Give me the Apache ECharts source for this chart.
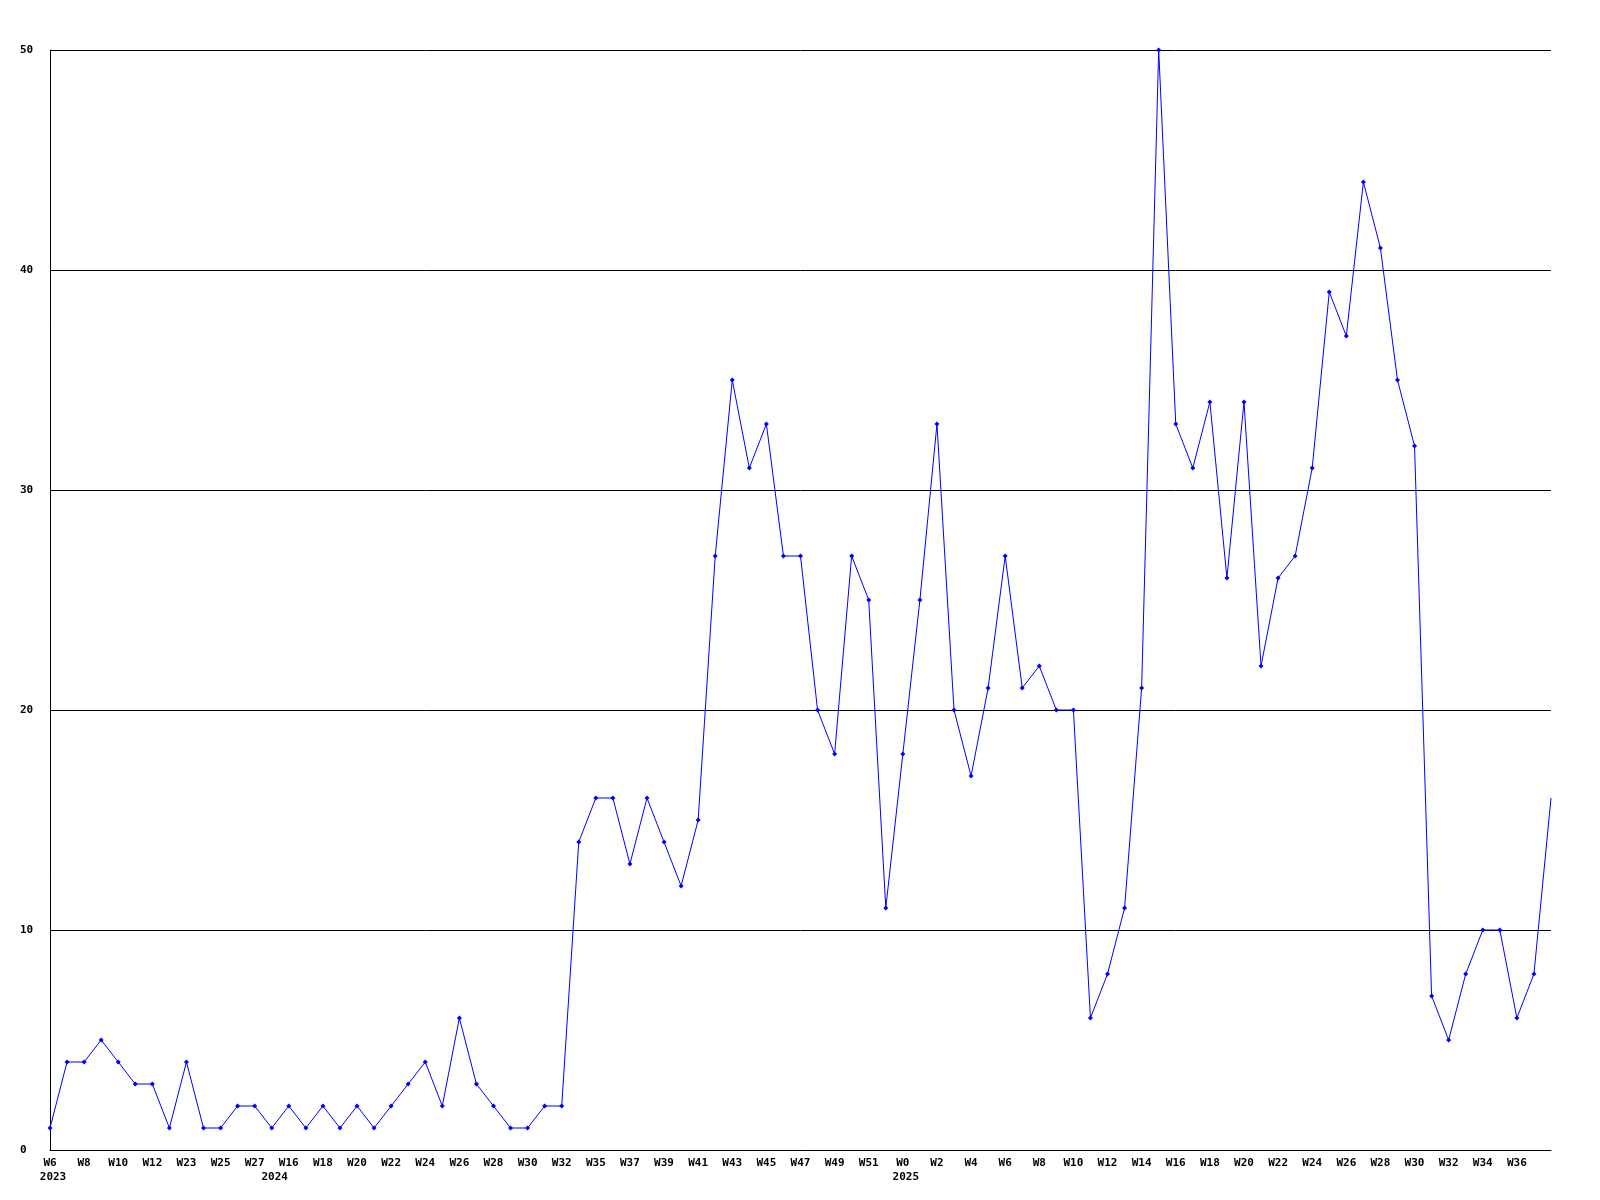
<!DOCTYPE html>
<html>
<head>
<meta charset="utf-8">
<script src="https://cdn.jsdelivr.net/npm/echarts@6/dist/echarts.min.js"></script>
<style>html,body{margin:0;padding:0;background:#fff;}#c{width:1600px;height:1200px;}</style>
</head>
<body>
<div id="c"></div>
<script>
const weekLabels = ['W6','W7','W8','W9','W10','W11','W12','W13','W23','W24','W25','W26','W27','W15','W16','W17','W18','W19','W20','W21','W22','W23','W24','W25','W26','W27','W28','W29','W30','W31','W32','W34','W35','W36','W37','W38','W39','W40','W41','W42','W43','W44','W45','W46','W47','W48','W49','W50','W51','W52','W0','W1','W2','W3','W4','W5','W6','W7','W8','W9','W10','W11','W12','W13','W14','W15','W16','W17','W18','W19','W20','W21','W22','W23','W24','W25','W26','W27','W28','W29','W30','W31','W32','W33','W34','W35','W36','W37','W38'];
const yearLabels = {0:'2023', 13:'2024', 50:'2025'};
const values = [1,4,4,5,4,3,3,1,4,1,1,2,2,1,2,1,2,1,2,1,2,3,4,2,6,3,2,1,1,2,2,14,16,16,13,16,14,12,15,27,35,31,33,27,27,20,18,27,25,11,18,25,33,20,17,21,27,21,22,20,20,6,8,11,21,50,33,31,34,26,34,22,26,27,31,39,37,44,41,35,32,7,5,8,10,10,6,8,16];
const yTicks = [0,10,20,30,40,50];

const font = {fontFamily:'DejaVu Sans Mono', fontWeight:'bold', fontSize:11, color:'#000'};
const lastIdx = weekLabels.length - 1;
const chart = echarts.init(document.getElementById('c'), null, {renderer:'canvas'});
chart.setOption({
  animation:false,
  backgroundColor:'#fff',
  grid:{left:50, right:49, top:50, bottom:50, containLabel:false},
  xAxis:[{
    type:'category', data:weekLabels, boundaryGap:false, position:'bottom',
    axisLine:{show:true, lineStyle:{color:'#000', width:1}},
    axisTick:{show:false},
    splitLine:{show:false},
    axisLabel:Object.assign({
      interval:function(i){ return i % 2 === 0 && i < lastIdx; },
      margin:8, hideOverlap:false
    }, font)
  },{
    type:'category', data:weekLabels, boundaryGap:false, position:'bottom',
    axisLine:{show:false}, axisTick:{show:false}, splitLine:{show:false},
    axisLabel:Object.assign({
      margin:22,
      interval:function(i){ return yearLabels[i] !== undefined; },
      formatter:function(v,i){ return yearLabels[i] || ''; },
      padding:[0,0,0,6]
    }, font)
  }],
  yAxis:{
    type:'value', min:yTicks[0], max:yTicks[yTicks.length-1], interval:10,
    axisLine:{show:true, lineStyle:{color:'#000', width:1}},
    axisTick:{show:false},
    splitLine:{show:true, lineStyle:{color:'#000', width:1}},
    axisLabel:Object.assign({margin:30, align:'left'}, font)
  },
  series:[{
    type:'line', xAxisIndex:0,
    data:values.map(function(v,i){ return i === lastIdx ? {value:v, symbol:'none'} : v; }),
    symbol:'diamond', symbolSize:5, showAllSymbol:true,
    lineStyle:{color:'#0000ff', width:1},
    itemStyle:{color:'#0000ff'},
    clip:true
  }]
});
</script>
</body>
</html>
